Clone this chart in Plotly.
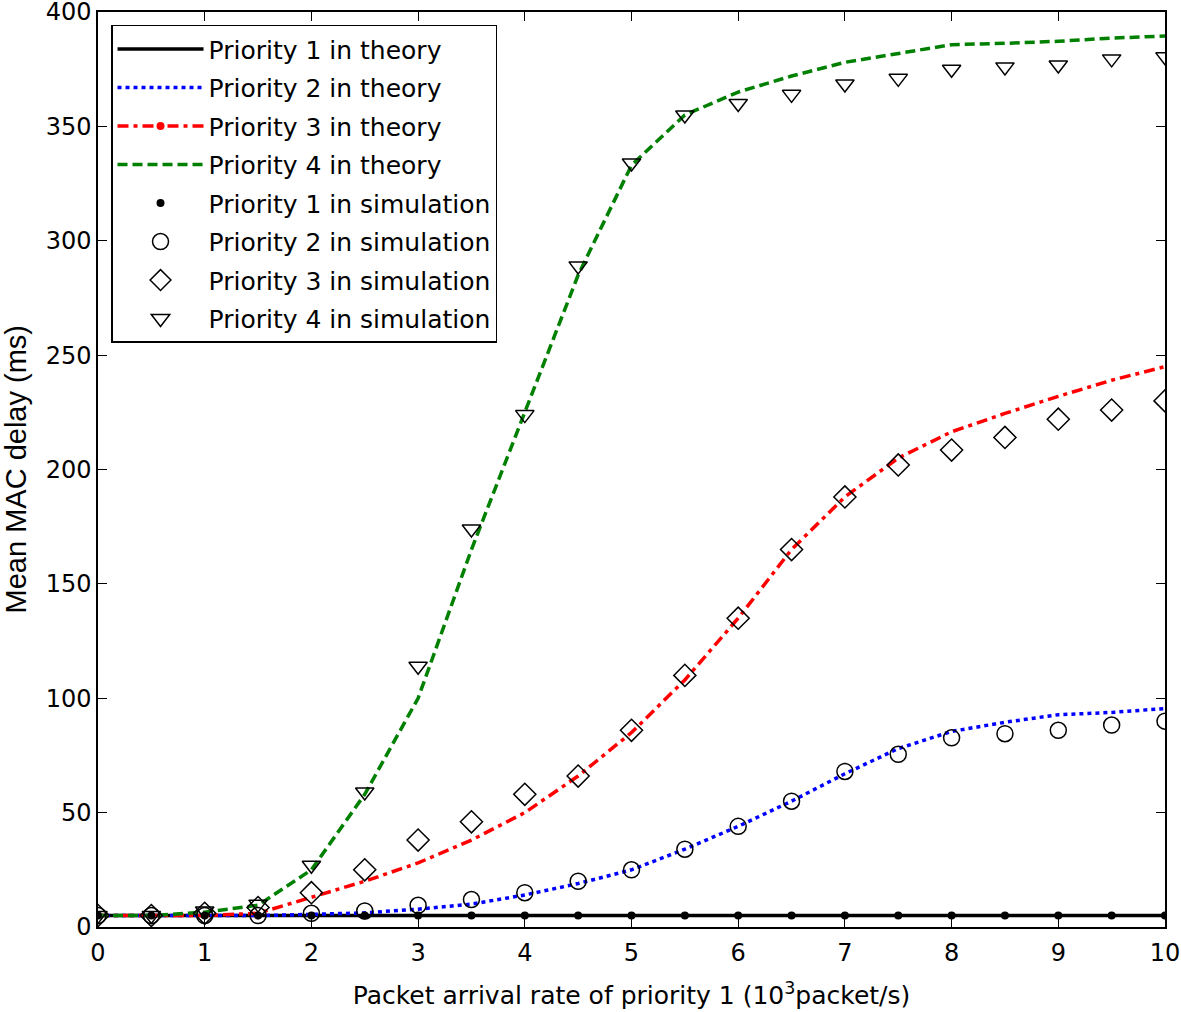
import plotly.graph_objects as go

x = [0, 0.5, 1, 1.5, 2, 2.5, 3, 3.5, 4, 4.5, 5, 5.5, 6, 6.5, 7, 7.5, 8, 8.5, 9, 9.5, 10]

p1_theory = [5] * 21
p2_theory = [5, 5, 5, 5, 5.5, 6.2, 7.8, 10, 14, 19, 25, 34, 44, 55, 67, 78, 85.5, 89.5, 92.8, 93.8, 95.5]
p3_theory = [5, 5, 5, 6, 13, 20, 28, 38, 50, 66, 85, 108, 135, 165, 188, 205, 216.5, 224.5, 232, 239, 245]
p4_theory = [5, 5, 6.5, 9.5, 25, 58, 100, 165, 225, 285, 333, 355, 365, 372, 378, 382, 385.7, 386.3, 387.2, 388.6, 389.5]

p1_sim = [5, 5, 5, 5, 5, 5, 5, 5, 5, 5, 5, 5, 5, 5, 5, 5, 5, 5, 5, 5, 5]
p2_sim = [5, 5, 5, 5, 6, 7, 9.5, 12, 15, 20, 25, 34, 44, 55, 68, 75.5, 82.7, 84.5, 86, 88.3, 90]
p3_sim = [5, 5, 6, 8.5, 15, 25, 38, 46, 58, 66, 86, 110, 135, 165, 188, 202, 208.5, 214, 222, 226, 230]
p4_sim = [5, 5, 7, 10, 27, 59, 114, 174, 224, 289, 334, 355, 360, 364, 368.5, 371, 375, 376, 376.8, 379.5, 380.4]

names = ["Priority 1 in theory", "Priority 2 in theory", "Priority 3 in theory", "Priority 4 in theory",
         "Priority 1 in simulation", "Priority 2 in simulation", "Priority 3 in simulation", "Priority 4 in simulation"]

x_title = "Packet arrival rate of priority 1 (10<sup>3</sup>packet/s)"
y_title = "Mean MAC delay (ms)"

FONT = "DejaVu Sans, Liberation Sans, Arial, sans-serif"

fig = go.Figure()
fig.add_trace(go.Scatter(x=x, y=p1_theory, mode="lines", name=names[0], legendgroup="g1",
                         line=dict(color="black", width=3.5)))
fig.add_trace(go.Scatter(x=x, y=p2_theory, mode="lines", name=names[1], legendgroup="g2",
                         line=dict(color="#0000ff", width=3.5, dash="4px,4px")))
fig.add_trace(go.Scatter(x=x, y=p3_theory, mode="lines", name=names[2], showlegend=False,
                         legendgroup="g3", line=dict(color="#ff0000", width=3.5, dash="11px,5px,4px,5px")))
fig.add_trace(go.Scatter(x=[None], y=[None], mode="lines+markers", name=names[2], legendgroup="g3",
                         line=dict(color="#ff0000", width=3.5, dash="11px,5px,4px,5px"),
                         marker=dict(color="#ff0000", size=8)))
fig.add_trace(go.Scatter(x=x, y=p4_theory, mode="lines", name=names[3], legendgroup="g4",
                         line=dict(color="#008000", width=3.5, dash="10px,5px")))
fig.add_trace(go.Scatter(x=x, y=p1_sim, mode="markers", name=names[4], legendgroup="g5",
                         marker=dict(symbol="circle", color="black", size=8)))
fig.add_trace(go.Scatter(x=x, y=p2_sim, mode="markers", name=names[5], legendgroup="g6",
                         marker=dict(symbol="circle-open", color="black", size=16, line=dict(width=1.5))))
fig.add_trace(go.Scatter(x=x, y=p3_sim, mode="markers", name=names[6], legendgroup="g7",
                         marker=dict(symbol="diamond-open", color="black", size=17, line=dict(width=1.5))))
fig.add_trace(go.Scatter(x=x, y=p4_sim, mode="markers", name=names[7], legendgroup="g8",
                         marker=dict(symbol="triangle-down-open", color="black", size=16, line=dict(width=1.5))))

axis_common = dict(showline=True, linecolor="black", linewidth=1.5, mirror="ticks", ticks="inside",
                   ticklen=9, tickcolor="black", tickwidth=1.2, showgrid=False, zeroline=False,
                   automargin=False, ticklabeloverflow="allow",
                   tickfont=dict(family=FONT, size=24, color="black"))

fig.update_xaxes(range=[0, 10], dtick=1, tick0=0, ticklabelstandoff=3,
                 title=dict(text=x_title,
                            font=dict(family=FONT, size=25, color="black"),
                            standoff=21),
                 **axis_common)
fig.update_yaxes(range=[0, 400], dtick=50, tick0=0, **axis_common)

fig.add_annotation(text=y_title, textangle=-90, xref="paper", yref="paper",
                   x=-0.0769, y=0.5, xanchor="center", yanchor="middle", showarrow=False,
                   font=dict(family="Liberation Sans, Arial, sans-serif", size=29, color="black"))

fig.update_layout(
    width=1181, height=1012,
    margin=dict(l=98, r=16, t=12, b=85),
    plot_bgcolor="white", paper_bgcolor="white",
    legend=dict(x=0.0122, y=0.986, xanchor="left", yanchor="top",
                bgcolor="white", bordercolor="black", borderwidth=1.5,
                font=dict(family=FONT, size=25, color="black"),
                itemwidth=86, tracegroupgap=3),
    showlegend=True,
)

fig.write_html("out.html", config={"displayModeBar": False})

# remove the default page margin so the figure sits at the window origin
with open("out.html", "r", encoding="utf-8") as f:
    html = f.read()
html = html.replace("<body>", '<body style="margin:0;overflow:hidden">', 1)
with open("out.html", "w", encoding="utf-8") as f:
    f.write(html)
